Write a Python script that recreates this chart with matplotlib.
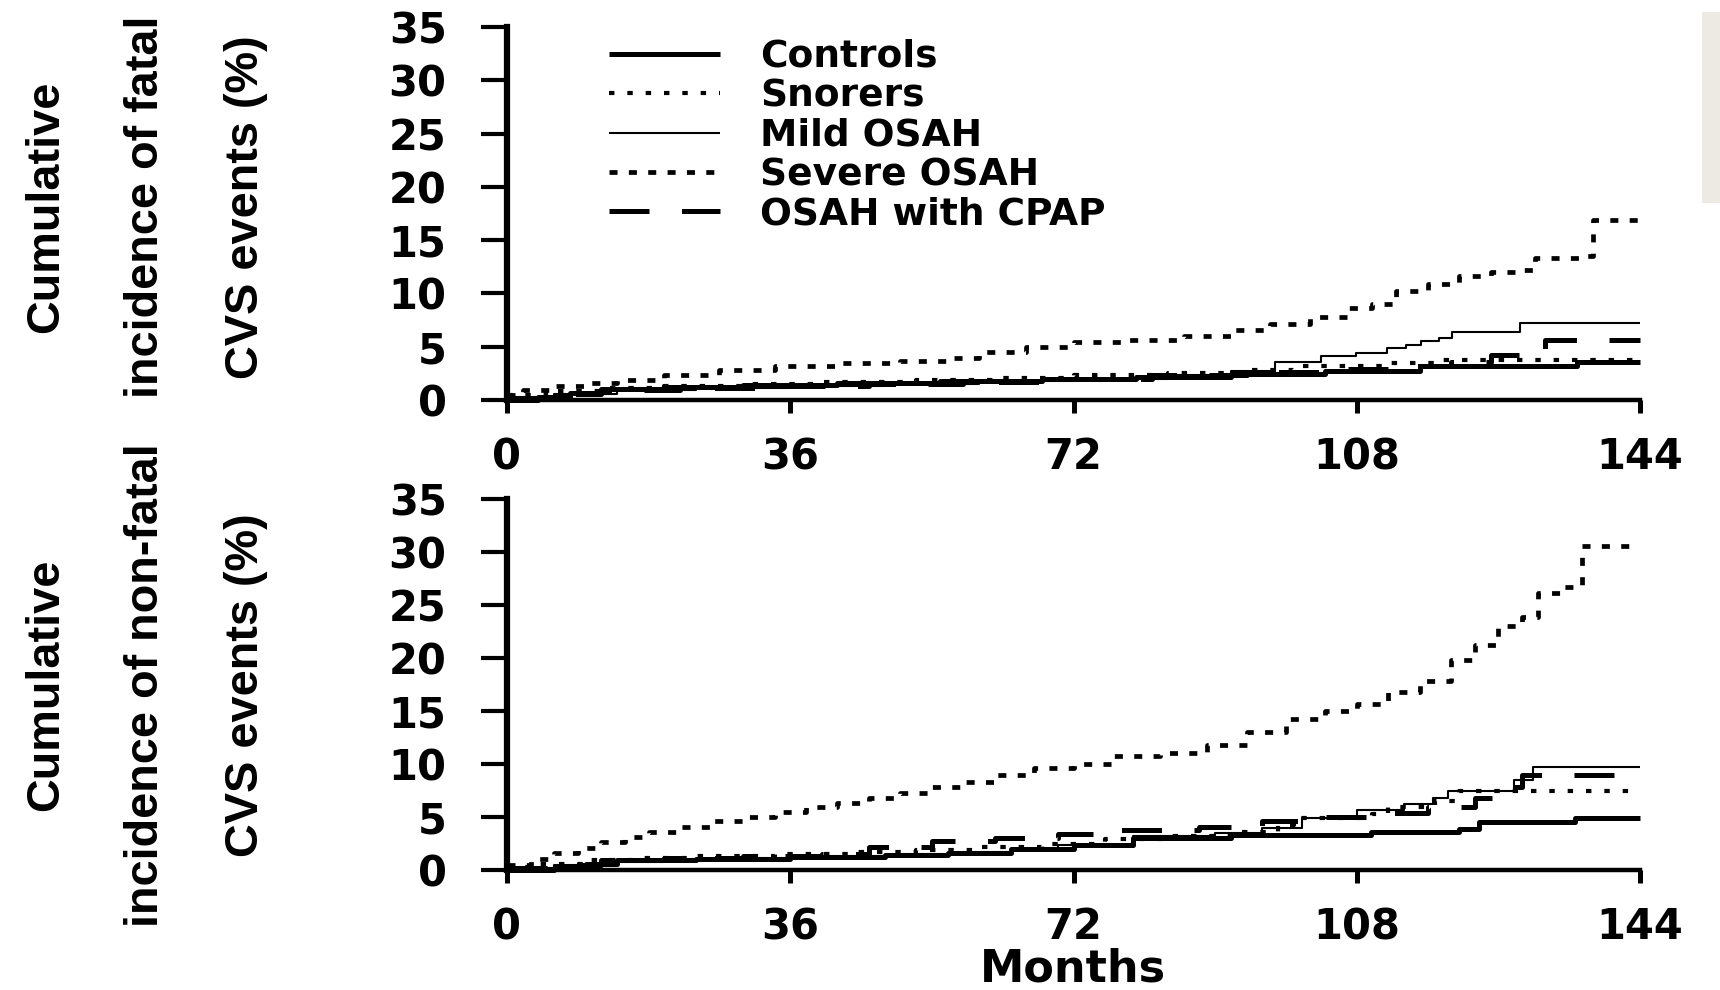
import matplotlib
matplotlib.use("Agg")
import matplotlib.pyplot as plt
from matplotlib.patches import Rectangle

# ---------------- data (months, cumulative incidence %) ----------------
series_names = ["Controls", "Snorers", "Mild OSAH", "Severe OSAH", "OSAH with CPAP"]
x_ticks = [0, 36, 72, 108, 144]
y_ticks = [0, 5, 10, 15, 20, 25, 30, 35]

# Top panel: fatal CVS events
fatal_controls_m = [0, 4, 8, 12, 20, 30, 42, 55, 68, 80, 92, 104, 116, 136, 144]
fatal_controls_v = [0, 0.3, 0.7, 1.0, 1.2, 1.4, 1.6, 1.8, 2.0, 2.2, 2.4, 2.7, 3.2, 3.6, 3.6]

fatal_snorers_m = [0, 5, 12, 20, 30, 40, 52, 62, 72, 84, 94, 100, 112, 119, 144]
fatal_snorers_v = [0.5, 0.8, 1.1, 1.3, 1.5, 1.7, 1.9, 2.1, 2.3, 2.5, 2.8, 3.2, 3.5, 3.8, 3.8]

fatal_mild_m = [0, 6, 14, 24, 36, 48, 60, 72, 84, 92, 97.6, 103.5, 107.9, 111.8, 114.2,
                116.2, 118.4, 120.1, 128.7, 144]
fatal_mild_v = [0.3, 0.6, 0.9, 1.1, 1.3, 1.5, 1.8, 2.0, 2.3, 2.7, 3.6, 4.1, 4.4, 4.9, 5.2,
                5.5, 5.8, 6.4, 7.2, 7.2]

fatal_severe_m = [0, 2, 6, 10, 14, 20, 27, 34, 42, 50, 56, 60, 66, 72, 78, 86, 92, 97, 102,
                  107, 110, 113, 117, 121, 125, 128.6, 130.6, 137, 138, 144]
fatal_severe_v = [0.5, 0.9, 1.3, 1.6, 1.9, 2.3, 2.8, 3.2, 3.5, 3.7, 3.9, 4.5, 5.0, 5.4, 5.6,
                  6.0, 6.6, 7.1, 7.8, 8.6, 9.0, 10.2, 10.9, 11.6, 12.0, 12.2, 13.3, 13.5,
                  16.9, 16.9]

fatal_cpap_m = [0, 5, 12, 22, 34, 46, 58, 70, 82, 94, 104, 112, 120, 125, 131.9, 144]
fatal_cpap_v = [0.2, 0.6, 0.9, 1.1, 1.3, 1.5, 1.7, 2.0, 2.3, 2.6, 2.9, 3.2, 3.6, 4.2, 5.6, 5.6]

# Bottom panel: non-fatal CVS events
nonfatal_controls_m = [0, 6, 10, 14, 24, 36, 48, 56, 64, 72, 79.5, 92, 109.8, 121, 123.5,
                       135.8, 144]
nonfatal_controls_v = [0, 0.2, 0.6, 0.9, 1.0, 1.2, 1.4, 1.6, 2.0, 2.4, 3.0, 3.3, 3.6, 3.9,
                       4.5, 4.9, 4.9]

nonfatal_snorers_m = [0, 4, 10, 16, 24, 34, 44, 52, 60, 68, 76, 84, 92, 98, 100, 110, 112,
                      118, 121, 144]
nonfatal_snorers_v = [0.3, 0.6, 0.9, 1.1, 1.3, 1.5, 1.7, 1.9, 2.2, 2.5, 2.9, 3.2, 3.6, 4.2,
                      4.9, 5.3, 5.9, 6.5, 7.5, 7.5]

nonfatal_mild_m = [0, 6, 12, 20, 30, 40, 50, 58, 64, 70, 79.5, 90, 96, 101, 108, 114, 117.7,
                   119.6, 128, 130.4, 144]
nonfatal_mild_v = [0.2, 0.5, 0.8, 1.0, 1.1, 1.3, 1.5, 1.7, 2.0, 2.4, 3.2, 3.5, 4.0, 4.9, 5.7,
                   6.2, 6.8, 7.5, 8.5, 9.7, 9.7]

nonfatal_severe_m = [0, 3, 6, 9, 12, 15, 18, 22, 26, 30, 34, 38, 42, 46, 50, 54, 58, 62, 67,
                     72, 77, 83, 89, 94, 99, 104, 108, 112, 116, 120, 123, 126, 129, 131,
                     134, 136.6, 144]
nonfatal_severe_v = [0.5, 1.0, 1.6, 2.1, 2.6, 3.1, 3.6, 4.1, 4.6, 5.0, 5.5, 5.9, 6.3, 6.8,
                     7.3, 7.8, 8.3, 9.0, 9.6, 10.0, 10.8, 11.0, 11.8, 13.0, 14.2, 15.0, 15.7,
                     16.8, 17.8, 19.8, 21.2, 23.0, 23.9, 26.1, 26.7, 30.6, 30.6]

nonfatal_cpap_m = [0, 6, 12, 20, 30, 40, 46, 54, 62, 70, 78, 88, 96, 104, 112, 117, 123, 126,
                   129, 144]
nonfatal_cpap_v = [0.2, 0.5, 0.9, 1.1, 1.3, 1.5, 2.2, 2.7, 3.0, 3.4, 3.8, 4.1, 4.6, 5.0, 5.4,
                   5.9, 6.8, 7.8, 9.0, 9.0]

fatal_label = "Cumulative\nincidence of fatal\nCVS events (%)"
nonfatal_label = "Cumulative\nincidence of non-fatal\nCVS events (%)"
x_label = "Months"

# ---------------- styles ----------------
styles = {
    "Controls": dict(color="black", lw=3.6, linestyle="-"),
    "Snorers": dict(color="black", lw=3.0, linestyle=(0, (1.3, 3.1))),
    "Mild OSAH": dict(color="black", lw=1.5, linestyle="-"),
    "Severe OSAH": dict(color="black", lw=3.4, linestyle=(0, (1.7, 2.4))),
    "OSAH with CPAP": dict(color="black", lw=3.6, linestyle=(0, (8.0, 6.5))),
}

W, H = 1720, 990
fig = plt.figure(figsize=(W / 100, H / 100), dpi=100)
fig.patch.set_facecolor("white")

ax1 = fig.add_axes([507 / W, 1 - 400 / H, 1133 / W, 373 / H])
ax2 = fig.add_axes([507 / W, 1 - 870 / H, 1133 / W, 371 / H])

tick_font = dict(family="DejaVu Sans", weight="bold", size=30)

top_data = [
    (fatal_controls_m, fatal_controls_v),
    (fatal_snorers_m, fatal_snorers_v),
    (fatal_mild_m, fatal_mild_v),
    (fatal_severe_m, fatal_severe_v),
    (fatal_cpap_m, fatal_cpap_v),
]
bot_data = [
    (nonfatal_controls_m, nonfatal_controls_v),
    (nonfatal_snorers_m, nonfatal_snorers_v),
    (nonfatal_mild_m, nonfatal_mild_v),
    (nonfatal_severe_m, nonfatal_severe_v),
    (nonfatal_cpap_m, nonfatal_cpap_v),
]

for ax, data in ((ax1, top_data), (ax2, bot_data)):
    for name, (m, v) in zip(series_names, data):
        st = styles[name]
        ax.step(m, v, where="post", color=st["color"], lw=st["lw"],
                linestyle=st["linestyle"], dash_capstyle="butt",
                solid_capstyle="butt", clip_on=False, label=name, zorder=3)
    ax.set_xlim(0, 144)
    ax.set_ylim(0, 35)
    ax.set_xticks(x_ticks)
    ax.set_yticks(y_ticks)
    ax.set_xticklabels([str(t) for t in x_ticks], fontdict=tick_font)
    ax.set_yticklabels([str(t) for t in y_ticks], fontdict=tick_font)
    for s in ("top", "right"):
        ax.spines[s].set_visible(False)
    ax.spines["left"].set_linewidth(4.5)
    ax.spines["bottom"].set_linewidth(3.2)
    ax.tick_params(axis="y", direction="out", length=18.5, width=3.0, pad=25)
    ax.tick_params(axis="x", direction="out", length=9, width=3.6, pad=17)
    ax.set_facecolor("none")

leg_size = 27
leg = ax1.legend(loc="upper left", bbox_to_anchor=(0.09, 0.968), frameon=False,
                 prop=dict(family="DejaVu Sans", weight="bold", size=leg_size),
                 handlelength=2.95, handletextpad=1.08, labelspacing=0.09,
                 borderaxespad=0, borderpad=0)

# ---- rotated y labels (one text each), sized to the reference extents ----
lab_kw = dict(family="Liberation Sans", weight="bold", rotation=90, ha="center",
              va="center", multialignment="center")
t_top = fig.text(146 / W, 1 - 207 / H, fatal_label, size=30, linespacing=1.0, **lab_kw)
t_bot = fig.text(146 / W, 1 - 685 / H, nonfatal_label, size=30, linespacing=1.0, **lab_kw)
renderer = fig.canvas.get_renderer()
# scale the font so that the longest line spans ~485 px
longest = t_bot.get_window_extent(renderer).height
size = 30 * 485 / longest
for t in (t_top, t_bot):
    t.set_fontsize(size)
w1 = t_bot.get_window_extent(renderer).width
for t in (t_top, t_bot):
    t.set_linespacing(2.0)
w2 = t_bot.get_window_extent(renderer).width
per_unit = (w2 - w1) / 2.0          # px of line pitch per unit of linespacing
ls = 90.0 / per_unit                  # target line pitch
for t in (t_top, t_bot):
    t.set_linespacing(ls)

fig.text(1073 / W, 1 - 969 / H, x_label, ha="center", va="center",
         family="DejaVu Sans", weight="bold", size=32)

# light grey strip at the top right edge
fig.patches.append(Rectangle((1702 / W, 1 - 203 / H), 18 / W, 191 / H,
                             transform=fig.transFigure, facecolor="#EDEAE3",
                             edgecolor="none", zorder=0))

fig.savefig("out.png", dpi=100, facecolor="white")
